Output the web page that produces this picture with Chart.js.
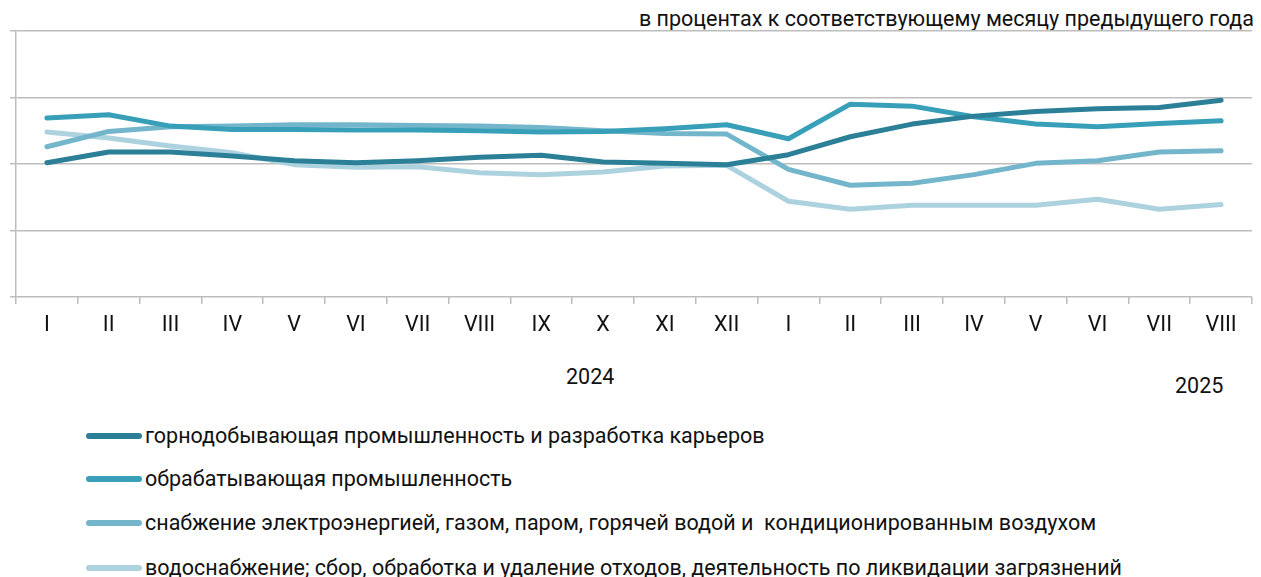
<!DOCTYPE html>
<html>
<head>
<meta charset="utf-8">
<script src="https://cdn.jsdelivr.net/npm/chart.js@4"></script>
<style>
  html, body { margin: 0; padding: 0; background: #fff; }
  body { width: 1261px; height: 577px; position: relative; overflow: hidden; font-family: Roboto, sans-serif; color: #111; }
  .note { position: absolute; right: 7px; top: 6px; font-size: 21.5px; line-height: 26px; white-space: nowrap; }
  .chartWrapper { position: absolute; left: 0; top: 0; width: 1261px; height: 345px; }
  .year { position: absolute; font-size: 21.5px; line-height: 26px; }
  .legend { position: absolute; left: 86px; top: 0; }
  .legend div { position: absolute; left: 0; white-space: pre; font-size: 21.5px; height: 26px; line-height: 26px; }
  .legend span.sw { position: absolute; left: 0; top: 10px; width: 56px; height: 6px; border-radius: 3px; }
  .legend span.tx { position: absolute; left: 59px; top: 0; }
</style>
</head>
<body>
<div class="note">в процентах к соответствующему месяцу предыдущего года</div>
<div class="chartWrapper"><canvas id="IndexPlot"></canvas></div>
<div class="year" style="left:566px; top:364px;">2024</div>
<div class="year" style="left:1175px; top:373px;">2025</div>
<div class="legend" id="legend"></div>

<script>
const months = ['I', 'II', 'III', 'IV', 'V', 'VI', 'VII', 'VIII', 'IX', 'X', 'XI', 'XII',
                'I', 'II', 'III', 'IV', 'V', 'VI', 'VII', 'VIII']

const seriesNames = [
    'горнодобывающая промышленность и разработка карьеров',
    'обрабатывающая промышленность',
    'снабжение электроэнергией, газом, паром, горячей водой и  кондиционированным воздухом',
    'водоснабжение; сбор, обработка и удаление отходов, деятельность по ликвидации загрязнений'
]

const mining = [100.2, 101.8, 101.8, 101.2, 100.5, 100.2, 100.5, 101.0, 101.3, 100.3, 100.1, 99.9,
                101.4, 104.1, 106.0, 107.2, 107.9, 108.3, 108.5, 109.6]
const manufacturing = [106.9, 107.4, 105.7, 105.2, 105.2, 105.1, 105.1, 105.0, 104.8, 104.9, 105.3, 105.9,
                103.8, 109.0, 108.7, 107.1, 106.0, 105.6, 106.1, 106.5]
const energy = [102.6, 104.9, 105.6, 105.7, 105.9, 105.9, 105.8, 105.7, 105.5, 105.0, 104.6, 104.5,
                99.2, 96.8, 97.1, 98.4, 100.1, 100.5, 101.8, 102.0]
const water = [104.8, 103.9, 102.7, 101.7, 99.9, 99.5, 99.6, 98.7, 98.4, 98.8, 99.7, 99.8,
                94.4, 93.2, 93.8, 93.8, 93.8, 94.7, 93.2, 93.9]

const colors = ['#2b7f96', '#389fb8', '#73b6cc', '#add2df']

const yMin = 80
const yMax = 120
const yStep = 10

const allSeries = [mining, manufacturing, energy, water]

// legend in html
const legendEl = document.getElementById('legend')
const legendTops = [423, 466, 510, 555]
seriesNames.forEach((name, i) => {
    const row = document.createElement('div')
    row.style.top = legendTops[i] + 'px'
    row.innerHTML = `<span class="sw" style="background:${colors[i]}"></span><span class="tx">${name}</span>`
    legendEl.appendChild(row)
})

const ctx = document.getElementById('IndexPlot')
new Chart(ctx, {
    type: 'line',
    data: {
        labels: months,
        datasets: allSeries.map((data, i) => ({
            label: seriesNames[i],
            data: data,
            fill: false,
            borderColor: colors[i],
            borderWidth: 5,
            borderCapStyle: 'round',
            borderJoinStyle: 'round',
            pointRadius: 0,
            lineTension: 0,
            order: i
        }))
    },
    options: {
        responsive: true,
        maintainAspectRatio: false,
        animation: false,
        layout: { padding: { top: 31, left: 10, right: 9, bottom: 0 } },
        plugins: {
            legend: { display: false },
            tooltip: { enabled: false }
        },
        scales: {
            x: {
                offset: true,
                grid: {
                    offset: true,
                    drawOnChartArea: false,
                    drawTicks: true,
                    tickLength: 7,
                    color: '#bdbdbd',
                    lineWidth: 1.5
                },
                border: { display: false },
                ticks: {
                    autoSkip: false,
                    maxRotation: 0,
                    padding: 9,
                    color: '#111',
                    font: { family: 'Roboto', size: 21.5 }
                },
                afterFit: (scale) => { scale.height = 345 - 297 }
            },
            y: {
                min: yMin,
                max: yMax,
                grid: {
                    color: '#bdbdbd',
                    lineWidth: 1.5,
                    tickLength: 6,
                    drawTicks: true
                },
                border: { display: true, color: '#bdbdbd', width: 1.5 },
                ticks: { stepSize: yStep, display: false },
                afterFit: (scale) => { scale.width = 6 }
            }
        }
    }
})
</script>
</body>
</html>
